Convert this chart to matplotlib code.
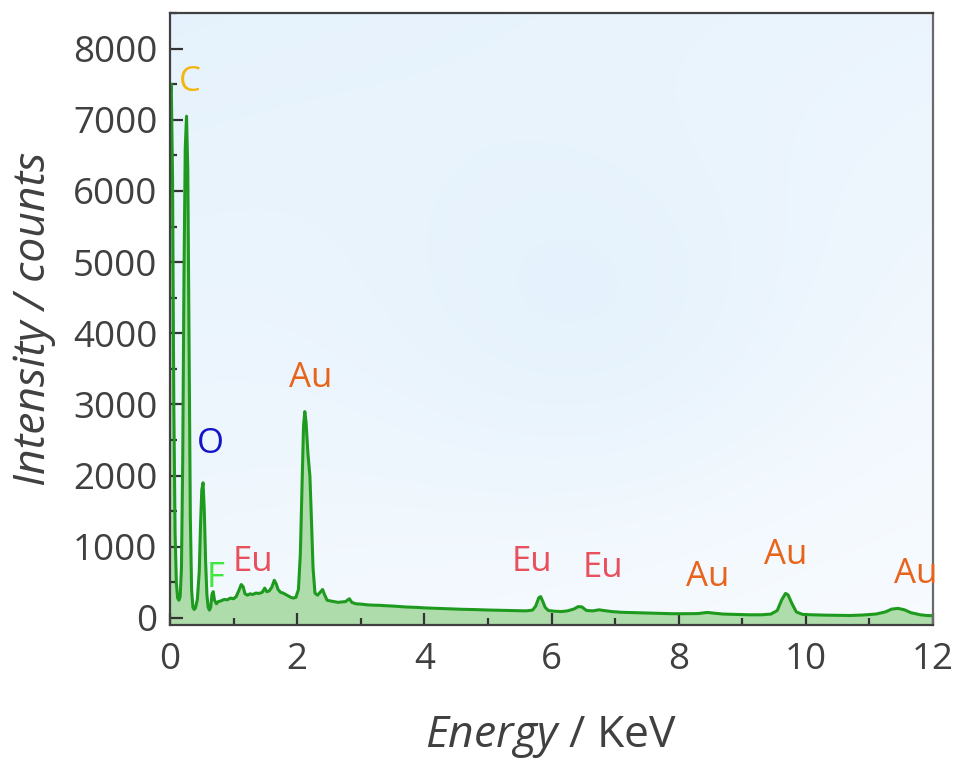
import numpy as np
import matplotlib
matplotlib.use("Agg")
import matplotlib.pyplot as plt
from matplotlib.ticker import MultipleLocator
from matplotlib.colors import LinearSegmentedColormap

plt.rcParams["font.family"] = ["Open Sans", "DejaVu Sans"]
plt.rcParams["mathtext.fontset"] = "custom"
plt.rcParams["mathtext.it"] = "Open Sans:italic"
plt.rcParams["mathtext.rm"] = "Open Sans"

# EDS spectrum: energy (keV) and intensity (counts)
energy = [
    0.00, 0.02, 0.04, 0.06, 0.08, 0.10, 0.12, 0.14, 0.16, 0.18,
    0.20, 0.22, 0.24, 0.26, 0.28, 0.30, 0.32, 0.34, 0.36, 0.38,
    0.40, 0.43, 0.46, 0.48, 0.50, 0.52, 0.54, 0.56, 0.58, 0.60,
    0.62, 0.64, 0.66, 0.68, 0.70, 0.73, 0.76, 0.80, 0.85, 0.90,
    0.95, 1.00, 1.04, 1.08, 1.12, 1.15, 1.18, 1.22, 1.26, 1.30,
    1.35, 1.40, 1.45, 1.49, 1.52, 1.56, 1.60, 1.64, 1.67, 1.70,
    1.74, 1.78, 1.82, 1.86, 1.90, 1.94, 1.98, 2.02, 2.05, 2.08,
    2.10, 2.12, 2.14, 2.17, 2.20, 2.22, 2.25, 2.28, 2.32, 2.36,
    2.40, 2.43, 2.47, 2.52, 2.58, 2.64, 2.70, 2.76, 2.82, 2.86,
    2.92, 3.00, 3.10, 3.20, 3.30, 3.40, 3.50, 3.60, 3.70, 3.80,
    3.90, 4.00, 4.20, 4.40, 4.60, 4.80, 5.00, 5.20, 5.40, 5.60,
    5.70, 5.75, 5.80, 5.83, 5.86, 5.90, 5.95, 6.05, 6.15, 6.25,
    6.35, 6.42, 6.48, 6.55, 6.65, 6.75, 6.82, 6.95, 7.10, 7.30,
    7.50, 7.70, 7.90, 8.10, 8.30, 8.45, 8.55, 8.70, 8.90, 9.10,
    9.30, 9.45, 9.55, 9.62, 9.68, 9.72, 9.78, 9.85, 9.95, 10.10,
    10.30, 10.50, 10.70, 10.90, 11.10, 11.25, 11.35, 11.45, 11.55, 11.65,
    11.80, 11.90, 12.00,
]
counts = [
    7300, 7500, 6200, 3000, 1200, 500, 280, 250, 300, 700,
    2200, 4800, 6600, 7050, 6300, 3800, 1400, 400, 150, 120,
    140, 260, 650, 1300, 1800, 1900, 1500, 800, 330, 150,
    110, 150, 330, 370, 250, 200, 230, 240, 260, 255,
    280, 270, 300, 380, 470, 440, 340, 320, 340, 330,
    350, 345, 360, 420, 370, 380, 430, 530, 480, 400,
    360, 350, 330, 310, 290, 280, 290, 400, 900, 2000,
    2700, 2900, 2750, 2300, 2000, 1500, 700, 350, 320, 360,
    400, 330, 250, 240, 230, 220, 225, 230, 270, 220,
    200, 195, 185, 180, 178, 172, 168, 162, 155, 152,
    148, 142, 135, 128, 122, 118, 112, 108, 104, 100,
    110, 165, 285, 300, 240, 150, 105, 95, 90, 100,
    125, 160, 155, 105, 100, 115, 105, 90, 80, 75,
    70, 65, 60, 60, 62, 78, 68, 55, 50, 45,
    45, 55, 105, 255, 345, 325, 205, 85, 50, 45,
    40, 38, 35, 42, 55, 85, 125, 135, 115, 75,
    45, 35, 32,
]

# Element labels: text, energy position, count position, colour
label_text = ["C", "O", "F", "Eu", "Au", "Eu", "Eu", "Au", "Au", "Au"]
label_x = [0.31, 0.63, 0.72, 1.31, 2.22, 5.69, 6.81, 8.45, 9.69, 11.73]
label_y = [7530, 2440, 560, 790, 3370, 790, 700, 575, 885, 620]
label_color = ["#f2b70f", "#1414c8", "#3ee83e", "#e8505c", "#e8641a",
               "#e8505c", "#e8505c", "#e8641a", "#e8641a", "#e8641a"]

x_ticks = [0, 2, 4, 6, 8, 10, 12]
y_ticks = [0, 1000, 2000, 3000, 4000, 5000, 6000, 7000, 8000]

fig = plt.figure(figsize=(9.55, 7.67), dpi=100)
ax = fig.add_axes([0.178, 0.185, 0.799, 0.798])

xmin, xmax = 0, 12
ymin, ymax = -100, 8500

# soft blue background wash
yy, xx = np.mgrid[0:1:200j, 0:1:200j]
wash = 0.7 * (1 - 0.45 * xx) * (0.5 + 0.5 * yy) + 0.25 * np.exp(-((xx - 0.55) ** 2 + (yy - 0.5) ** 2) / 0.08) \
    + 0.15 * xx * yy
bg_cmap = LinearSegmentedColormap.from_list("bg", ["#f9fcff", "#e2f0fc"])
ax.imshow(wash, extent=[xmin, xmax, ymin, ymax], origin="lower", aspect="auto",
          cmap=bg_cmap, vmin=0.15, vmax=0.8, zorder=0, interpolation="bilinear")

ax.fill_between(energy, counts, ymin, color="#aedcab", zorder=1, linewidth=0)
ax.plot(energy, counts, color="#1e9b1e", linewidth=2.2, zorder=2)

for t, x, y, c in zip(label_text, label_x, label_y, label_color):
    ax.text(x, y, t, color=c, fontsize=25, ha="center", va="center", zorder=3)

ax.set_xlim(xmin, xmax)
ax.set_ylim(ymin, ymax)
ax.set_xticks(x_ticks)
ax.set_yticks(y_ticks)
ax.xaxis.set_minor_locator(MultipleLocator(1))
ax.yaxis.set_minor_locator(MultipleLocator(500))

ax.tick_params(which="both", direction="in", colors="#333333", labelcolor="#404040",
               labelsize=26.5, width=1.6, top=False, right=False)
ax.tick_params(which="major", length=9)
ax.tick_params(which="minor", length=5)
ax.tick_params(axis="x", pad=12)
ax.tick_params(axis="y", pad=9)

for side in ["left", "bottom", "top"]:
    ax.spines[side].set_color("#404040")
    ax.spines[side].set_linewidth(1.6)
ax.spines["right"].set_color("#6a6a6a")
ax.spines["right"].set_linewidth(1.6)

ax.set_xlabel(r"$\mathit{Energy}$ / KeV", fontsize=32, color="#404040", labelpad=26)
ax.set_ylabel("Intensity / counts", fontsize=32, color="#404040", style="italic", labelpad=12)

fig.savefig("out.png", dpi=100, facecolor="white")
